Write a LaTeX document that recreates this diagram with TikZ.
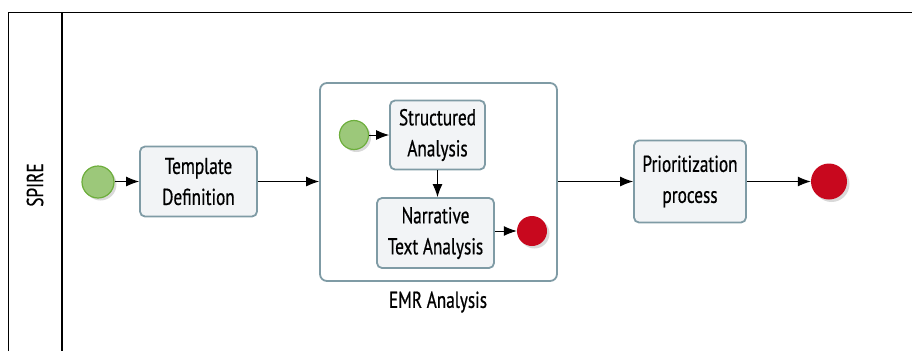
\documentclass[tikz,border=0pt]{standalone}
\usepackage{fontspec}
\setmainfont{PT Sans}[FakeStretch=0.75,FakeBold=0.6]
\usetikzlibrary{shadows,arrows.meta}
\definecolor{boxline}{HTML}{7F9BA5}
\definecolor{boxfill}{HTML}{F2F4F6}
\definecolor{startfill}{HTML}{9CC87A}
\definecolor{startline}{HTML}{6DAE3C}
\definecolor{endfill}{HTML}{C8081E}
\tikzset{
  task/.style={draw=boxline, fill=boxfill, line width=1.8pt, rounded corners=5pt, align=center, font=\fontsize{23}{31}\selectfont, inner sep=0pt},
  startev/.style={circle, draw=startline, fill=startfill, line width=1.2pt, inner sep=0pt, minimum size=#1, drop shadow={shadow xshift=2.5pt, shadow yshift=-2.5pt, opacity=0.3}},
  endev/.style={circle, fill=endfill, inner sep=0pt, minimum size=#1, drop shadow={shadow xshift=2.5pt, shadow yshift=-2.5pt, opacity=0.3}},
  flow/.style={-{Latex[length=13pt,width=10pt]}, line width=1pt},
  lbl/.style={font=\fontsize{23}{27}\selectfont}
}
\begin{document}
\begin{tikzpicture}[x=1pt,y=1pt]
\useasboundingbox (0,0) rectangle (912,-351);
% pool
\draw[line width=1.2pt] (8.5,-351) -- (8.5,-12.5) -- (912,-12.5);
\draw[line width=1.2pt] (62,-12.5) -- (62,-351);
\node[lbl, rotate=90] (pool) at (35,-185) {SPIRE};
% subprocess
\node[draw=boxline, line width=1.8pt, rounded corners=7pt, minimum width=237pt, minimum height=198pt, inner sep=0pt] (sub) at (438.5,-182) {};
\node[lbl] (sublabel) at (438,-302) {EMR Analysis};
% main flow
\node[startev=32pt] (s) at (98,-182) {};
\node[task, minimum width=117pt, minimum height=70pt] (td) at (198.5,-181.5) {Template\\Definition};
\node[task, minimum width=112pt, minimum height=82pt] (pp) at (690,-181.5) {Prioritization\\process};
\node[endev=36pt] (e) at (829,-181.5) {};
% inner
\node[startev=29pt] (is) at (354,-135) {};
\node[task, minimum width=95pt, minimum height=69pt] (sa) at (437.5,-135) {Structured\\Analysis};
\node[task, minimum width=117pt, minimum height=70pt] (nt) at (435.5,-233) {Narrative\\Text Analysis};
\node[endev=30pt] (ie) at (532,-231) {};
% flows
\draw[flow] (s.east |- td.west) -- (td.west);
\draw[flow] (td.east) -- (sub.west |- td.east);
\draw[flow] (sub.east |- pp.west) -- (pp.west);
\draw[flow] (pp) -- (e);
\draw[flow] (is) -- (sa.west |- is);
\draw[flow] (sa.south) -- (sa.south |- nt.north);
\draw[flow] (nt.east |- ie) -- (ie);
\end{tikzpicture}
\end{document}
